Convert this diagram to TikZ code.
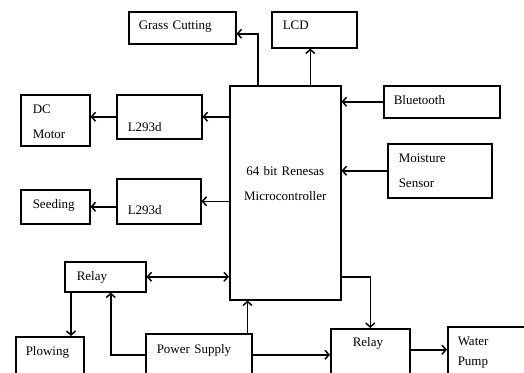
\documentclass[tikz,border=0pt]{standalone}
\usepackage{fontspec}
\setmainfont{Liberation Serif}
\usetikzlibrary{arrows.meta}

\begin{document}
\begin{tikzpicture}[x=1pt, y=-1pt, >={Straight Barb[length=4pt,width=9pt]}, line width=1.5pt,
    font=\fontsize{13}{25}\selectfont,
    blk/.style={draw, anchor=north west, align=left, inner ysep=0pt}]
    \useasboundingbox (0,0) rectangle (524,372);
    \clip (0,0) rectangle (524,372);

    \node[blk, inner xsep=10pt, text width=87pt, text height=17.5pt, text depth=14.5pt] (grass) at (128,11) {Grass Cutting};
    \node[blk, inner xsep=11pt, text width=63pt, text height=17.5pt, text depth=18.5pt] (lcd) at (271,11) {LCD};
    \node[blk, inner xsep=12pt, text width=45pt, text height=18.5pt, text depth=32.5pt] (dcm) at (20,94) {DC\\Motor};
    \node[blk, inner xsep=11pt, text width=63pt, text height=36.5pt, text depth=7.5pt] (drvA) at (116,94) {L293d};
    \node[blk, inner xsep=12pt, text width=45pt, text height=18.5pt, text depth=15.5pt] (seed) at (20,189) {Seeding};
    \node[blk, inner xsep=11pt, text width=62pt, text height=35.5pt, text depth=9.5pt] (drvB) at (116,178) {L293d};
    \node[blk, inner xsep=10pt, text width=96pt, text height=18.5pt, text depth=13.5pt] (bt) at (383,85) {Bluetooth};
    \node[blk, inner xsep=11pt, text width=82pt, text height=18.5pt, text depth=35.5pt] (moist) at (387,143) {Moisture\\Sensor};
    \node[blk, align=center, inner xsep=5pt, text width=101pt, text height=89.5pt, text depth=124.5pt] (mcu) at (229,85) {64 bit Renesas\\Microcontroller};
    \node[blk, inner xsep=12pt, text width=57pt, text height=18.5pt, text depth=11.5pt] (relayA) at (64,261) {Relay};
    \node[blk, inner xsep=10pt, text width=48pt, text height=18.5pt, text depth=40pt] (plow) at (15,336) {Plowing};
    \node[blk, inner xsep=11pt, text width=84pt, text height=19.5pt, text depth=22.5pt] (psu) at (145,333) {Power Supply};
    \node[blk, inner xsep=22pt, text width=35pt, text height=17.5pt, text depth=34.5pt] (relayB) at (330,328) {Relay};
    \node[blk, inner xsep=10pt, text width=70pt, text height=18.5pt, text depth=40pt] (pump) at (447,326) {Water\\[-5pt]Pump};

    \draw[->] ([xshift=29pt]mcu.north west) |- ([yshift=-6pt]grass.east);
    \draw[->] ([xshift=-4pt]lcd.south |- mcu.north) -- ([xshift=-4pt]lcd.south);
    \draw[->] (mcu.west |- drvA.east) -- (drvA.east);
    \draw[->] (drvA.west) -- (drvA.west -| dcm.east);
    \draw[->] (mcu.west |- drvB.east) -- (drvB.east);
    \draw[->] (drvB.west |- seed.east) -- (seed.east);
    \draw[->] (bt.west) -- (bt.west -| mcu.east);
    \draw[->] (moist.west) -- (moist.west -| mcu.east);
    \draw[<->] (relayA.east) -- (relayA.east -| mcu.west);
    \draw[->] ([xshift=7pt]relayA.south west) -- ([xshift=7pt]relayA.south west |- plow.north);
    \draw[->] (psu.west) -| ([xshift=5.5pt]relayA.south);
    \draw[->] ([xshift=-5pt]psu.north east) -- ([xshift=-5pt]psu.north east |- mcu.south);
    \draw[->] (psu.east) -- (relayB.west);
    \draw[->] (mcu.east |- relayA.east) -| (relayB.north);
    \draw[->] ([yshift=5pt]relayB.east) -- ([yshift=5pt]relayB.east -| pump.west);
\end{tikzpicture}
\end{document}
